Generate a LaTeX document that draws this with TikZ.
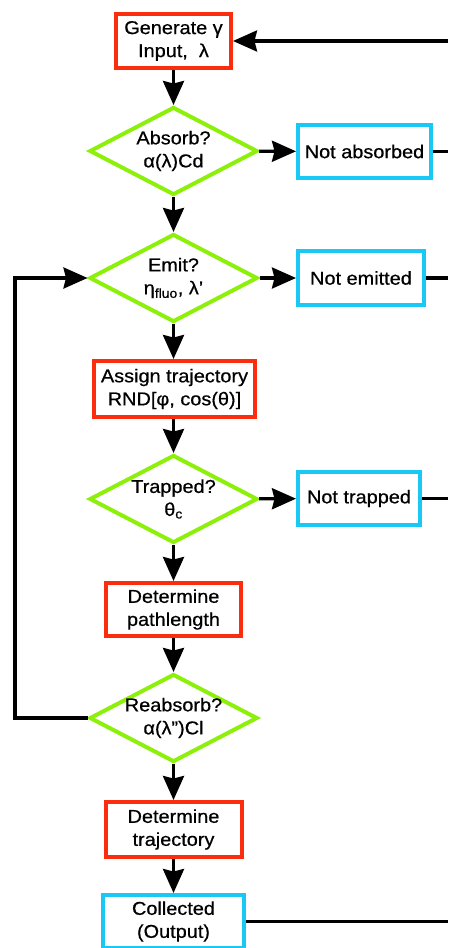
\documentclass[tikz,border=0pt]{standalone}
\usepackage{fontspec}
\setmainfont{Liberation Sans}[FakeStretch=1.07,FakeBold=0.6]
\usetikzlibrary{shapes.geometric,arrows.meta}
\definecolor{rbox}{RGB}{250,45,15}
\definecolor{bbox}{RGB}{25,200,245}
\definecolor{gdia}{RGB}{140,240,10}
\begin{document}
\begin{tikzpicture}[x=1pt,y=-1pt,
  font=\fontsize{18.6}{23}\selectfont,
  proc/.style={draw=rbox, line width=4pt, fill=white, inner sep=0pt, align=center},
  outc/.style={draw=bbox, line width=4pt, fill=white, inner sep=0pt, align=center},
  dia/.style={diamond, draw=gdia, line width=4pt, fill=white, inner sep=0pt, minimum width=168pt, minimum height=88pt},
  dtxt/.style={inner sep=0pt, align=center},
  conn/.style={line width=3.3pt},
  arr/.style={conn, -{Stealth[length=24pt 0 0,width=21pt 0,inset=2.5pt 0]}}
]
\useasboundingbox (0,0) rectangle (448,948);
\fill[white] (0,0) rectangle (448,948);
\coordinate (R) at (448,0);
\coordinate (L) at (15,0);

\node[proc, minimum width=115pt, minimum height=54pt] (g) at (173.5,41) {Generate γ\\Input,\ \ λ};
\node[dia] (d1) at (173.5,151) {};
\node[dtxt] (d1t) at (d1.center) {Absorb?\\α(λ)Cd};
\node[outc, minimum width=133pt, minimum height=53pt] (na) at (364.5,151.5) {Not absorbed};
\node[dia] (d2) at (173.5,278) {};
\node[dtxt] (d2t) at (d2.center) {Emit?\\η\textsubscript{fluo}, λ’};
\node[outc, minimum width=126pt, minimum height=54pt] (ne) at (361,278) {Not emitted};
\node[proc, minimum width=161pt, minimum height=56pt] (at) at (174.5,389) {Assign trajectory\\RND[φ, cos(θ)]};
\node[dia] (d3) at (173.5,499) {};
\node[dtxt] (d3t) at (d3.center) {Trapped?\\θ\textsubscript{c}};
\node[outc, minimum width=122pt, minimum height=53pt] (nt) at (359,498.5) {Not trapped};
\node[proc, minimum width=135pt, minimum height=53pt] (dp) at (173.5,609.5) {Determine\\pathlength};
\node[dia] (d4) at (173.5,718) {};
\node[dtxt] (d4t) at (d4.center) {Reabsorb?\\α(λ”)Cl};
\node[proc, minimum width=136pt, minimum height=55pt] (dt) at (173.5,829.5) {Determine\\trajectory};
\node[outc, minimum width=141pt, minimum height=53pt] (co) at (173.5,921.5) {Collected\\(Output)};

\draw[arr] (g.east -| R) -- (g.east);
\draw[arr] (g) -- (d1);
\draw[arr] (d1) -- (na);
\draw[conn] (na.east) -- (na.east -| R);
\draw[arr] (d1) -- (d2);
\draw[arr] (d2) -- (ne);
\draw[conn] (ne.east) -- (ne.east -| R);
\draw[arr] (d2.south) -- (d2.south |- at.north);
\draw[arr] (d3.north |- at.south) -- (d3.north);
\draw[arr] (d3) -- (nt);
\draw[conn] (nt.east) -- (nt.east -| R);
\draw[arr] (d3) -- (dp);
\draw[arr] (dp) -- (d4);
\draw[arr] (d4.west) -- (d4.west -| L) -- (d2.west -| L) -- (d2.west);
\draw[arr] (d4) -- (dt);
\draw[arr] (dt) -- (co);
\draw[conn] (co.east) -- (co.east -| R);
\end{tikzpicture}
\end{document}
